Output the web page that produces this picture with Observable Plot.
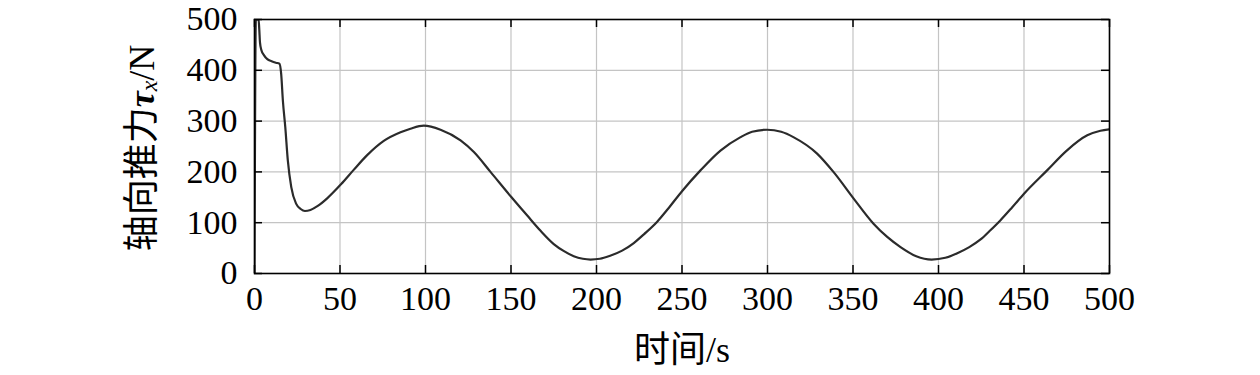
<!DOCTYPE html>
<html>
<head>
<meta charset="utf-8">
<script src="https://cdn.jsdelivr.net/npm/d3@7"></script>
<script src="https://cdn.jsdelivr.net/npm/@observablehq/plot@0.6"></script>
<style>
  html, body { margin: 0; padding: 0; background: white; }
</style>
</head>
<body>
<div id="chart"></div>
<script>
const time = [0, 0.8, 2.4, 2.8, 3.2, 4, 5.5, 7.5, 10, 12.5, 14.6, 15.6, 16.6, 18, 19.5, 21.5, 24.4, 27, 29.5, 32.7, 37, 42.5, 50.7, 58, 65.9, 75.6, 85.4, 91.2, 99, 108.8, 120.5, 128.3, 138, 150.3, 159.5, 167.3, 175, 181, 186.7, 192, 196.5, 202, 208, 215, 221.8, 228, 235.5, 242, 250, 260.8, 272.5, 284, 291, 299.8, 308, 315.4, 329, 338.8, 350.5, 362, 370, 377.8, 387, 396, 404, 411, 418, 424.6, 430, 436, 443, 450, 463.5, 475, 487, 494.7, 500];
const thrust = [0, 500, 500, 480, 455, 440, 430, 422, 418, 415, 413, 393, 340, 288, 222, 170, 137, 127, 123, 125, 133, 148, 176, 204, 233, 261, 278, 285, 291, 283, 262, 239, 200, 150, 114, 84, 58, 44, 34, 29, 27.5, 29, 35, 45, 60, 78, 102, 128, 162, 203, 242, 268, 279, 283, 279, 268, 236, 199, 147, 98, 72, 52, 34, 27.5, 31, 40, 52, 67, 84, 104, 130, 157, 203, 242, 272, 281, 284];
const xTicks = [0, 50, 100, 150, 200, 250, 300, 350, 400, 450, 500];
const yTicks = [0, 100, 200, 300, 400, 500];
const xLabel = "时间/s";
const yLabelParts = ["轴向推力", "τ", "x", "/N"];

const data = time.map((t, i) => ({t, v: thrust[i]}));

const W = 1260, H = 375;
const mL = 254, mR = 151, mT = 19, mB = 102;
const innerW = W - mL - mR, innerH = H - mT - mB;
const tickLen = 8;
const font = "'Liberation Serif', 'Times New Roman', 'Noto Sans CJK SC', serif";

const chart = Plot.plot({
  width: W, height: H,
  marginLeft: mL, marginRight: mR, marginTop: mT, marginBottom: mB,
  style: {fontFamily: font, fontSize: "34px", background: "white", color: "black"},
  x: {domain: [0, 500]},
  y: {domain: [0, 500]},
  marks: [
    Plot.gridX(xTicks, {stroke: "#c4c4c4", strokeOpacity: 1, strokeWidth: 1.2}),
    Plot.gridY(yTicks, {stroke: "#c4c4c4", strokeOpacity: 1, strokeWidth: 1.2}),
    Plot.line(data, {x: "t", y: "v", stroke: "#2b2b2b", strokeWidth: 2.2, curve: "monotone-x", clip: true}),
    Plot.tickX(xTicks, {x: d => d, stroke: "black", strokeWidth: 1.5, insetTop: innerH - tickLen}),
    Plot.tickX(xTicks, {x: d => d, stroke: "black", strokeWidth: 1.5, insetBottom: innerH - tickLen}),
    Plot.tickY(yTicks, {y: d => d, stroke: "black", strokeWidth: 1.5, insetRight: innerW - tickLen}),
    Plot.tickY(yTicks, {y: d => d, stroke: "black", strokeWidth: 1.5, insetLeft: innerW - tickLen}),
    Plot.frame({stroke: "black", strokeWidth: 1.6}),
    Plot.axisX(xTicks, {tickSize: 0, tickPadding: 12, fontSize: 34, label: null}),
    Plot.axisY(yTicks, {tickSize: 0, tickPadding: 17, fontSize: 34, label: null}),
    Plot.text([xLabel], {frameAnchor: "bottom", dy: 88, lineAnchor: "bottom", text: d => d, fontSize: 36, fontFamily: font})
  ]
});

const svg = d3.select(chart);
const yl = svg.append("text")
  .attr("transform", `translate(${142},${mT + innerH / 2 + 2}) rotate(-90)`)
  .attr("text-anchor", "middle")
  .attr("dominant-baseline", "central")
  .attr("font-family", font)
  .attr("font-size", 36)
  .attr("fill", "black");
yl.append("tspan").text(yLabelParts[0]);
yl.append("tspan").attr("font-style", "italic").attr("font-weight", "bold").text(yLabelParts[1]);
yl.append("tspan").attr("font-style", "italic").attr("font-size", 24).attr("dy", 7).text(yLabelParts[2]);
yl.append("tspan").attr("dy", -7).text(yLabelParts[3]);

document.getElementById("chart").appendChild(chart);
</script>
</body>
</html>
